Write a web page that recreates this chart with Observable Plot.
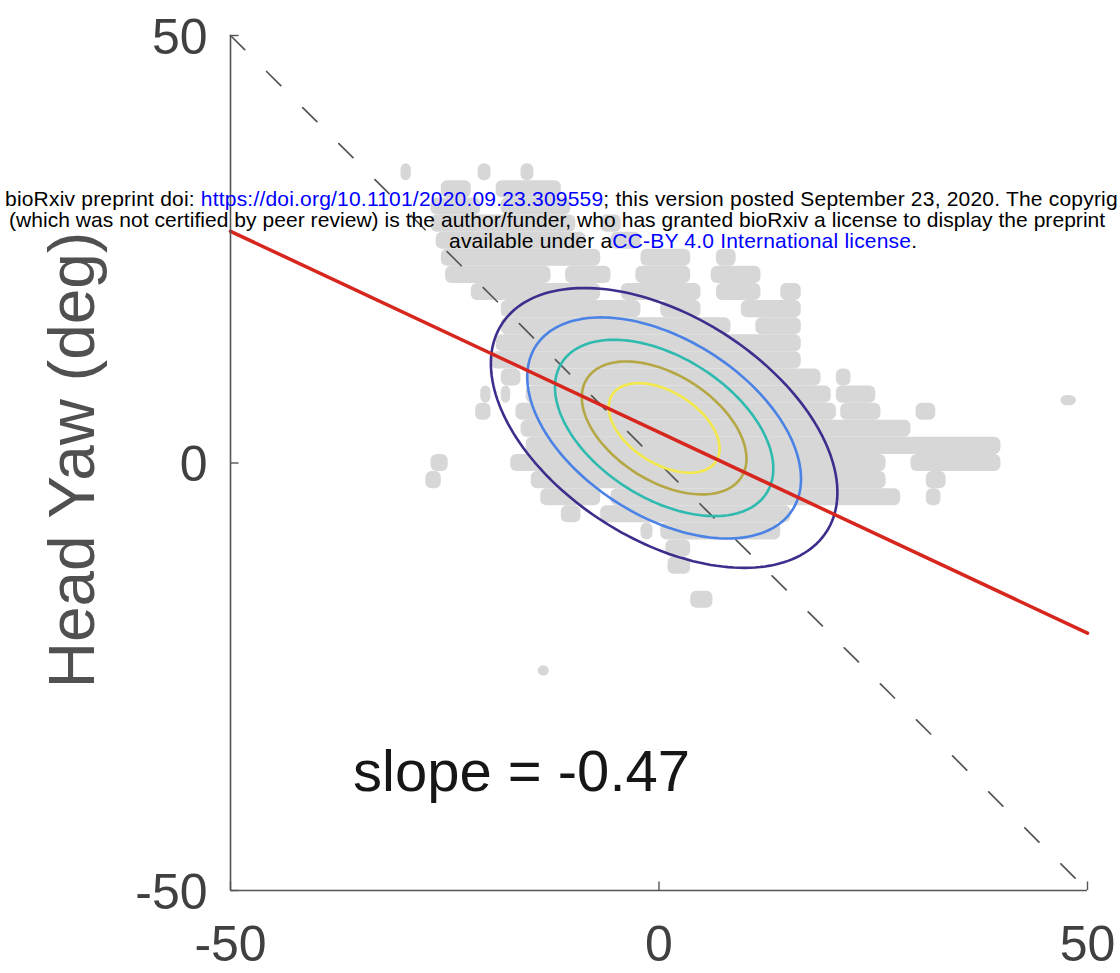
<!DOCTYPE html>
<html><head><meta charset="utf-8">
<script src="https://cdn.jsdelivr.net/npm/d3@7"></script>
<script src="https://cdn.jsdelivr.net/npm/@observablehq/plot@0.6"></script>
<style>
html,body{margin:0;padding:0;background:#fff}
body{width:1120px;height:973px;overflow:hidden;position:relative;font-family:"Liberation Sans",Arial,Helvetica,sans-serif}
#chart{position:absolute;left:0;top:0}
.hdr{position:absolute;white-space:nowrap;font-size:21px;line-height:21px;letter-spacing:0.2px;color:#000}
.hdr span.l{color:#0000ff}
</style></head><body>
<div id="chart"></div>
<div class="hdr" style="left:5px;top:188px">bioRxiv preprint doi: <span class="l">https://doi.org/10.1101/2020.09.23.309559</span>; this version posted September 23, 2020. The copyrig</div>
<div class="hdr" style="left:9px;top:209px;letter-spacing:0.05px">(which was not certified by peer review) is the author/funder, who has granted bioRxiv a license to display the preprint</div>
<div class="hdr" style="left:449px;top:230px">available under a<span class="l">CC-BY 4.0 International license</span>.</div>
<script>
// ---- data ----
const xTicks = [-50, 0, 50];
const yTicks = [-50, 0, 50];
const xTickLabels = ["-50", "0", "50"];
const yTickLabels = ["-50", "0", "50"];
const yLabel = "Head Yaw (deg)";
const slopeLabel = "slope = -0.47";

// regression line (red) end points
const fitX = [-50, 50];
const fitY = [27.1, -19.9];
// unity line (dashed)
const unityX = [-50, 50];
const unityY = [50, -50];

// Gaussian contour ellipses
const ellipseCenter = [0.6, 4.1];
const ellipseAxes = [22.5, 13.05];
const ellipseAngleDeg = -32.6;
const contourScales = [1, 0.79, 0.63, 0.475, 0.32];
const contourColors = ["#3b2e8c", "#4a82e6", "#2fbab0", "#b5a844", "#f3e94c"];

// grey data cloud: rows [yCenter, halfHeight, [[x1,x2], ...]]
const cloudRows = [
  [34, 1, [[-30.1,-28.9],[-21.1,-19.6],[-16.1,-14.6]]],
  [32, 1, [[-25.4,-21.9],[-19.0,-11.4]]],
  [30, 1, [[-26.6,-20.8],[-18.4,-10.3]]],
  [28, 1, [[-26.6,-9.7],[-6.8,-4.4]]],
  [26, 1, [[-26.0,-8.5],[-5.6,-2.1]]],
  [24, 1, [[-25.4,-6.8],[-2.1,3.7],[6.7,9.0]]],
  [22, 1, [[-24.9,-12.6],[-10.9,-5.6],[-2.7,3.7],[6.1,11.9]]],
  [20, 1, [[-21.9,-6.8],[-4.4,4.9],[6.7,11.9],[14.2,16.6]]],
  [18, 1, [[-18.4,-2.1],[0.2,4.9],[9.6,16.6]]],
  [16, 1, [[-18.4,8.4],[11.3,16.6]]],
  [14, 1, [[-19.0,16.6]]],
  [12, 1, [[-19.6,16.6]]],
  [10, 1, [[-18.4,-16.1],[-15.5,18.9],[20.7,22.4]]],
  [8, 1, [[-20.8,-19.6],[-18.4,-17.3],[-15.5,20.1],[20.7,25.3]]],
  [7.3, 0.6, [[46.9,48.7]]],
  [6, 1, [[-21.4,-19.6],[-16.7,20.7],[21.2,25.9],[30.0,32.3]]],
  [4, 1, [[-16.1,29.4]]],
  [2, 1, [[-15.5,39.9]]],
  [0, 1, [[-26.6,-24.6],[-17.3,26.5],[29.4,39.9]]],
  [-2, 1, [[-27.2,-25.4],[-14.9,26.5],[31.2,33.5]]],
  [-4, 1, [[-13.8,-6.8],[-5.6,28.2],[31.2,32.9]]],
  [-6, 1, [[-11.4,-9.1],[-6.8,15.4]]],
  [-8, 1, [[-2.1,-0.7],[0.2,14.2]]],
  [-10, 1, [[0.8,3.7]]],
  [-12, 1, [[1.05,3.7]]],
  [-16, 1, [[3.7,6.3]]],
  [-24.3, 0.6, [[-14.1,-12.8]]]
];

// ---- derived tables ----
const cloud = cloudRows.flatMap(([yc, h, runs]) => runs.map(([a, b]) => ({x1: a, x2: b, y1: yc - h, y2: yc + h})));
const fit = fitX.map((x, i) => ({x, y: fitY[i]}));
const unity = unityX.map((x, i) => ({x, y: unityY[i]}));
const phi = ellipseAngleDeg * Math.PI / 180;
const ellipses = [];
contourScales.forEach((s, k) => {
  for (let i = 0; i <= 180; i++) {
    const t = 2 * Math.PI * i / 180;
    const u = s * ellipseAxes[0] * Math.cos(t), v = s * ellipseAxes[1] * Math.sin(t);
    ellipses.push({level: k, color: contourColors[k],
      x: ellipseCenter[0] + u * Math.cos(phi) - v * Math.sin(phi),
      y: ellipseCenter[1] + u * Math.sin(phi) + v * Math.cos(phi)});
  }
});
const xt = xTicks.map((v, i) => ({v, label: xTickLabels[i]}));
const yt = yTicks.map((v, i) => ({v, label: yTickLabels[i]}));

const font = "Liberation Sans, Arial, Helvetica, sans-serif";
const axisColor = "#555";

const chart = Plot.plot({
  width: 1120, height: 973,
  marginLeft: 230, marginRight: 33, marginTop: 35, marginBottom: 83,
  x: {domain: [-50, 50], axis: null},
  y: {domain: [-50, 50], axis: null},
  color: {type: "identity"},
  style: {background: "#fff", fontFamily: font, overflow: "visible"},
  marks: [
    Plot.rect(cloud, {x1: "x1", x2: "x2", y1: "y1", y2: "y2", fill: "#d7d7d7", rx: 6}),
    Plot.line(unity, {x: "x", y: "y", stroke: "#555", strokeWidth: 1.7, strokeDasharray: "20,31"}),
    Plot.line(ellipses, {x: "x", y: "y", z: "level", stroke: "color", strokeWidth: 2.6, curve: "linear"}),
    Plot.line(fit, {x: "x", y: "y", stroke: "#d6261e", strokeWidth: 3.5}),
    Plot.ruleX([xTicks[0]], {y1: yTicks[0], y2: yTicks[2], stroke: axisColor, strokeWidth: 1.6}),
    Plot.ruleY([yTicks[0]], {x1: xTicks[0], x2: xTicks[2], stroke: axisColor, strokeWidth: 1.6}),
    Plot.ruleX(xt, {x: "v", y1: yTicks[0], y2: yTicks[0] + 1, stroke: axisColor, strokeWidth: 1.4}),
    Plot.ruleY(yt, {y: "v", x1: xTicks[0], x2: xTicks[0] + 1, stroke: axisColor, strokeWidth: 1.4}),
    Plot.text(xt, {x: "v", y: yTicks[0], text: "label", dy: 54, lineAnchor: "middle", textAnchor: "middle", fontSize: 50, fill: "#404040"}),
    Plot.text(yt, {y: "v", x: xTicks[0], text: "label", dx: -23, dy: 2, lineAnchor: "middle", textAnchor: "end", fontSize: 50, fill: "#404040"}),
    Plot.text([yLabel], {frameAnchor: "left", dx: -157, dy: -3, rotate: -90, lineAnchor: "middle", textAnchor: "middle", fontSize: 64, fill: "#505050"}),
    Plot.text([slopeLabel], {x: -35.7, y: -38.4, lineAnchor: "bottom", textAnchor: "start", fontSize: 58, fill: "#161616"})
  ]
});
document.getElementById("chart").appendChild(chart);
</script>
</body></html>
